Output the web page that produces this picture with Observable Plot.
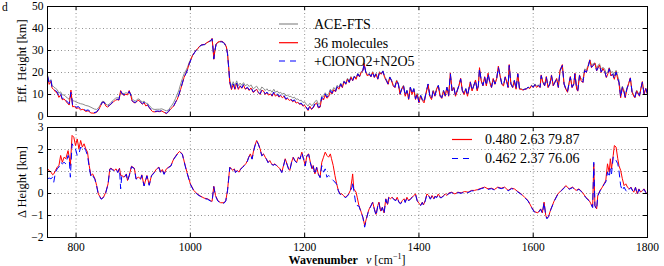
<!DOCTYPE html>
<html><head><meta charset="utf-8">
<script src="https://cdn.jsdelivr.net/npm/d3@7"></script>
<script src="https://cdn.jsdelivr.net/npm/@observablehq/plot@0.6"></script>
<style>
body{margin:0;background:#fff;}
#chart{position:relative;width:664px;height:266px;overflow:hidden;background:#fff;}
#chart svg{position:absolute;left:0;overflow:visible;}
</style></head><body><div id="chart"></div>
<script>
// ---------- data ----------
const xTicks = [800, 1000, 1200, 1400, 1600, 1800];
const yTicksTop = [0, 10, 20, 30, 40, 50];
const yTicksBot = [-2, -1, 0, 1, 2, 3];
const legendTop = ["ACE-FTS", "36 molecules", "+ClONO2+N2O5"];
const legendBot = ["0.480 2.63 79.87", "0.462 2.37 76.06"];

const topNu = [
750,753,756,758,761,764,767,770,773,776,
779,782,785,788,791,794,797,800,804,808,
812,817,821,826,832,836,840,843,846,849,
852,855,858,861,865,869,872,875,878,881,
884,887,890,893,896,898,901,904,907,910,
913,916,919,922,925,928,931,934,938,942,
946,950,954,958,962,965,968,971,974,977,
980,983,986,989,992,995,998,1001,1004,1007,
1010,1013,1016,1019,1022,1025,1028,1031,1034,1036,
1038,1040,1041,1043,1045,1048,1051,1054,1057,1060,
1063,1065,1067,1069,1072,1075,1078,1081,1084,1087,
1090,1093,1096,1100,1103,1106,1110,1113,1116,1119,
1122,1125,1128,1131,1134,1137,1140,1143,1146,1149,
1152,1155,1158,1161,1164,1167,1170,1173,1176,1179,
1182,1185,1188,1191,1194,1197,1200,1203,1206,1209,
1212,1215,1218,1221,1224,1227,1230,1233,1236,1239,
1242,1245,1248,1251,1254,1257,1260,1263,1266,1269,
1272,1275,1278,1281,1284,1287,1290,1293,1296,1299,
1302,1304,1307,1310,1313,1316,1319,1322,1325,1328,
1331,1334,1337,1340,1343,1346,1349,1352,1355,1358,
1361,1364,1367,1370,1373,1376,1379,1382,1385,1388,
1391,1394,1397,1400,1403,1406,1409,1412,1416,1419,
1422,1425,1428,1431,1434,1437,1440,1443,1446,1449,
1452,1455,1458,1461,1464,1467,1470,1473,1476,1479,
1482,1485,1488,1490,1493,1496,1499,1502,1504,1506,
1509,1512,1515,1518,1521,1524,1527,1530,1533,1536,
1539,1542,1545,1548,1551,1554,1556,1558,1561,1564,
1567,1570,1573,1576,1579,1582,1585,1588,1591,1594,
1597,1600,1603,1606,1609,1612,1614,1617,1620,1623,
1626,1629,1632,1635,1638,1641,1644,1647,1651,1654,
1657,1660,1663,1665,1668,1671,1673,1676,1678,1681,
1684,1687,1690,1693,1696,1699,1702,1705,1708,1711,
1714,1716,1719,1722,1725,1728,1731,1733,1736,1739,
1742,1745,1748,1750,1753,1756,1759,1761,1764,1767,
1770,1773,1776,1778,1781,1784,1786,1789,1791,1794,
1797,1800];

const topAce = [
18.8,15.8,16.8,14.2,13.4,12.8,12.2,10.6,11.2,9.8,
9.8,9.0,8.4,7.8,9.5,7.2,7.0,6.6,6.2,5.8,
5.6,5.0,4.8,4.2,3.4,3.2,4.2,5.6,6.9,6.8,
5.6,5.2,5.6,6.4,7.4,8.3,8.6,8.4,10.8,10.6,
10.4,10.8,10.6,11.2,10.2,8.2,7.3,7.0,7.8,8.0,
7.2,6.6,7.0,6.0,6.0,5.0,4.2,3.4,3.2,3.3,
3.3,3.5,3.0,2.6,3.0,4.2,5.2,6.5,8.2,10.0,
12.0,14.8,17.2,19.4,20.8,22.4,24.6,26.2,27.9,29.0,
30.0,30.8,31.8,32.4,32.6,32.7,33.3,33.8,34.2,34.5,
35.3,30.0,26.2,30.0,32.7,33.6,33.9,34.0,33.8,33.0,
31.5,28.5,22.4,16.4,13.6,15.8,13.8,16.2,14.0,15.2,
14.2,15.4,14.0,14.6,13.6,14.4,12.6,13.2,13.8,12.6,
11.8,13.4,12.8,11.8,12.6,11.6,12.0,11.0,12.4,11.0,
11.6,10.6,11.0,10.2,10.6,9.4,9.8,9.0,9.2,8.4,
8.8,7.8,8.0,7.2,7.4,6.4,6.6,5.6,4.8,6.0,
5.0,5.4,6.8,7.4,5.6,5.8,9.4,9.0,10.8,9.6,
10.2,12.4,11.4,13.2,12.2,14.2,13.2,15.2,13.8,16.2,
15.2,17.4,16.0,18.2,16.8,18.4,17.4,19.6,18.4,20.4,
21.0,23.6,20.4,18.8,19.6,18.4,20.4,18.2,19.6,17.4,
20.4,19.6,20.8,18.2,16.8,15.2,18.0,16.6,14.4,13.8,
16.6,15.0,10.8,12.8,14.2,10.0,12.0,8.6,13.4,10.6,
12.8,8.6,10.6,7.0,9.8,8.0,7.0,10.4,14.6,9.8,
8.4,12.0,9.8,12.8,14.2,9.8,8.8,12.0,9.8,13.4,
9.8,19.0,12.0,13.4,9.8,12.0,14.2,16.8,12.0,10.6,
12.8,9.8,13.4,15.4,12.0,14.2,16.2,12.0,14.2,21.2,
16.4,14.2,17.6,14.4,19.0,15.8,13.6,17.0,15.0,17.0,
22.0,18.6,15.0,14.3,17.6,15.6,13.6,22.6,15.0,13.6,
16.4,12.8,19.0,12.8,12.6,12.2,12.5,12.7,13.4,12.9,
14.2,13.6,14.8,13.8,14.4,13.6,18.2,15.8,14.4,17.6,
13.6,15.0,18.2,14.4,15.8,17.0,13.8,20.6,22.8,15.0,
12.8,11.6,15.6,17.6,13.6,15.0,19.0,12.8,12.2,18.4,
17.2,16.6,21.6,21.2,23.2,25.6,23.4,24.0,24.4,22.0,
23.4,24.0,21.4,22.4,21.6,19.4,20.6,22.2,20.0,20.4,
18.4,21.0,18.2,16.6,10.2,13.8,11.8,9.6,13.0,15.0,
17.2,11.4,9.8,9.2,12.0,10.6,9.8,13.2,15.2,10.6,
12.6,10.6];

const topRed = [
18.0,14.6,16.0,13.0,12.2,11.2,10.6,8.7,9.8,7.6,
8.0,7.0,6.0,5.2,12.0,4.4,4.6,3.7,3.9,3.0,
3.3,2.3,2.6,1.6,1.5,1.9,3.3,4.9,6.4,6.5,
4.8,4.3,4.9,5.6,6.6,7.4,7.7,7.4,11.8,10.1,
9.6,10.1,9.8,11.8,9.3,7.1,6.3,6.2,7.1,7.4,
6.3,5.6,6.3,4.8,5.2,4.0,3.0,2.2,2.1,2.3,
2.2,2.5,1.9,1.3,2.2,3.3,4.0,4.8,6.3,7.8,
9.8,12.4,15.0,17.7,19.6,21.4,24.0,25.9,27.8,29.0,
30.1,30.9,31.9,32.5,32.7,32.8,33.4,33.9,34.3,34.7,
35.5,30.2,26.0,30.2,32.9,33.8,34.1,34.2,34.0,33.2,
31.7,28.8,22.8,15.2,12.2,14.6,12.3,15.0,12.3,13.9,
12.8,14.3,12.4,13.0,11.8,13.0,10.9,11.6,12.4,10.8,
10.0,11.9,11.6,10.0,10.8,9.7,10.3,9.2,10.8,9.2,
10.0,8.8,9.5,8.5,9.2,7.7,8.2,7.3,7.7,6.7,
7.3,6.1,6.5,5.5,5.8,4.7,5.1,3.9,2.7,4.7,
3.2,3.9,5.5,6.2,3.9,4.2,8.3,7.5,9.8,8.3,
9.0,11.3,10.2,12.2,11.2,13.4,12.4,14.6,13.1,15.8,
14.6,17.0,15.4,17.8,16.2,18.1,16.9,19.3,18.0,20.1,
20.8,24.2,20.0,18.4,19.2,18.0,20.0,17.7,19.2,16.9,
20.0,19.2,20.4,17.7,16.2,14.6,17.7,16.2,13.9,13.1,
16.2,14.6,10.0,12.4,13.9,9.2,11.6,7.7,13.1,10.0,
12.4,7.7,10.0,6.2,9.2,7.3,6.2,10.0,14.6,9.2,
7.7,11.6,9.2,12.4,13.9,9.2,8.2,11.6,9.2,13.1,
9.2,19.8,11.6,13.1,9.2,11.6,14.0,17.4,11.6,10.0,
12.4,9.2,13.1,15.8,11.6,13.9,16.6,11.6,13.9,22.2,
16.2,13.9,18.1,13.9,19.7,15.4,13.1,17.3,14.6,17.3,
22.9,18.4,14.6,13.9,18.1,15.4,13.1,23.6,14.6,13.1,
16.2,12.4,19.6,12.4,12.4,12.0,12.3,12.5,13.2,12.7,
14.0,13.2,14.4,13.2,14.0,13.1,18.9,15.4,13.9,18.2,
13.1,14.6,18.9,13.9,15.4,17.3,13.1,21.2,23.6,14.6,
12.4,11.0,15.4,18.2,13.1,14.6,19.7,12.4,11.5,18.9,
16.2,15.4,21.1,20.0,22.6,25.8,22.2,23.4,24.2,20.7,
22.6,23.4,20.0,21.9,20.4,17.7,19.6,21.9,18.4,19.2,
16.9,20.4,16.9,15.4,8.5,13.1,11.0,8.5,12.4,15.0,
17.6,11.0,9.2,8.5,11.6,10.0,9.2,13.5,15.9,10.0,
12.8,10.0];

const topBlue = [
18.5,15.1,16.4,13.3,12.6,11.8,11.1,9.1,10.3,8.0,
8.5,7.6,6.5,5.8,11.0,5.0,5.3,4.2,4.5,3.5,
3.8,2.7,3.0,2.0,1.8,2.1,3.5,5.0,6.5,6.5,
5.0,4.5,5.0,5.8,6.8,7.6,7.9,7.6,11.5,10.3,
9.8,10.3,10.0,11.4,9.5,7.3,6.5,6.4,7.3,7.6,
6.5,5.8,6.5,5.0,5.4,4.2,3.2,2.4,2.3,2.5,
2.4,2.7,2.1,1.5,2.4,3.5,4.2,5.0,6.5,8.0,
10.0,12.6,15.2,17.9,19.4,21.2,23.9,25.8,27.7,28.9,
30.0,30.8,31.8,32.4,32.6,32.7,33.3,33.8,34.2,34.5,
35.3,30.0,26.2,30.0,32.7,33.6,33.9,34.0,33.8,33.0,
31.5,28.5,22.4,15.6,12.6,14.8,12.6,15.2,12.6,14.1,
13.0,14.5,12.6,13.3,12.1,13.3,11.2,11.8,12.6,11.1,
10.3,12.1,11.8,10.3,11.1,10.0,10.6,9.5,11.1,9.5,
10.3,9.1,9.8,8.8,9.5,8.0,8.5,7.6,8.0,7.0,
7.6,6.4,6.8,5.8,6.1,5.0,5.4,4.2,3.0,5.0,
3.5,4.2,5.8,6.5,4.2,4.5,8.8,8.0,10.3,8.8,
9.5,11.8,10.6,12.6,11.5,13.6,12.6,14.8,13.3,15.9,
14.8,17.1,15.6,17.9,16.4,18.2,17.1,19.4,18.2,20.2,
20.9,23.9,20.2,18.6,19.4,18.2,20.2,17.9,19.4,17.1,
20.2,19.4,20.6,17.9,16.4,14.8,17.9,16.4,14.1,13.3,
16.4,14.8,10.3,12.6,14.1,9.5,11.8,8.0,13.3,10.3,
12.6,8.0,10.3,6.5,9.5,7.6,6.5,10.3,14.8,9.5,
8.0,11.8,9.5,12.6,14.1,9.5,8.5,11.8,9.5,13.3,
9.5,19.4,11.8,13.3,9.5,11.8,14.1,17.1,11.8,10.3,
12.6,9.5,13.3,15.6,11.8,14.1,16.4,11.8,14.1,21.7,
16.4,14.1,17.9,14.1,19.4,15.6,13.3,17.1,14.8,17.1,
22.4,18.6,14.8,14.1,17.9,15.6,13.3,23.2,14.8,13.3,
16.4,12.6,19.4,12.6,12.6,12.1,12.4,12.6,13.3,12.8,
14.1,13.3,14.5,13.3,14.1,13.3,18.6,15.6,14.1,17.9,
13.3,14.8,18.6,14.1,15.6,17.1,13.3,20.9,23.2,14.8,
12.6,11.2,15.6,17.9,13.3,14.8,19.4,12.6,11.8,18.6,
16.4,15.6,20.9,20.2,22.4,25.5,22.4,23.2,23.9,20.9,
22.4,23.2,20.2,21.7,20.6,17.9,19.4,21.7,18.6,19.4,
17.1,20.2,17.1,15.6,8.8,13.3,11.2,8.8,12.6,14.8,
17.4,11.2,9.5,8.8,11.8,10.3,9.5,13.3,15.6,10.3,
12.6,10.3];

const botNu = [
750,753,756,759,761,764,767,770,773,776,
779,782,786,788,790,793,796,799,802,805,
808,811,814,817,820,823,826,829,833,836,
839,844,848,852,856,859,861,864,867,870,
873,876,878,880,884,888,890,893,897,902,
905,909,913,915,919,924,928,932,937,941,
945,948,951,954,958,962,966,971,977,981,
986,988,991,994,1000,1006,1012,1018,1024,1030,
1035,1038,1041,1044,1048,1053,1059,1062,1065,1067,
1069,1072,1074,1077,1079,1082,1085,1088,1091,1094,
1097,1100,1102,1105,1108,1111,1113,1116,1119,1122,
1125,1128,1131,1133,1136,1139,1142,1145,1148,1151,
1154,1157,1160,1163,1166,1169,1172,1174,1177,1180,
1183,1186,1189,1192,1195,1198,1201,1204,1207,1210,
1213,1215,1218,1221,1224,1227,1230,1233,1236,1239,
1242,1245,1247,1250,1253,1256,1259,1262,1265,1268,
1271,1274,1277,1280,1283,1284,1286,1290,1292,1295,
1299,1302,1305,1308,1311,1313,1316,1319,1322,1325,
1328,1330,1333,1336,1339,1342,1345,1347,1350,1353,
1356,1359,1362,1365,1368,1371,1374,1376,1379,1382,
1385,1388,1391,1394,1397,1400,1403,1406,1408,1411,
1414,1417,1420,1423,1426,1428,1431,1434,1437,1440,
1443,1446,1449,1452,1457,1463,1468,1474,1480,1486,
1492,1497,1503,1509,1515,1521,1527,1532,1538,1544,
1550,1556,1562,1567,1573,1579,1585,1591,1597,1602,
1608,1613,1616,1619,1622,1624,1627,1631,1637,1643,
1649,1655,1657,1663,1669,1675,1680,1686,1692,1698,
1701,1704,1706,1708,1711,1713,1717,1721,1724,1727,
1730,1733,1735,1737,1740,1742,1745,1748,1750,1753,
1756,1759,1762,1765,1768,1771,1774,1776,1779,1782,
1785,1788,1791,1794,1797,1800];

const botRed = [
1.12,1.05,0.97,0.85,0.89,1.05,1.20,1.27,1.73,1.42,
1.65,1.58,1.95,1.65,1.27,2.64,2.56,2.18,2.48,2.03,
2.41,2.11,2.26,2.03,1.88,1.27,0.82,0.89,0.67,0.36,
-0.02,-0.24,-0.17,0.06,0.44,1.12,1.15,1.09,1.05,1.12,
0.97,1.15,0.82,0.82,0.74,0.89,0.59,0.82,1.24,1.15,
0.67,0.74,0.67,0.85,0.36,0.82,0.39,0.82,0.97,1.12,
1.20,0.97,1.09,0.89,1.12,1.20,1.27,1.58,1.80,1.91,
1.80,1.58,1.27,0.97,0.44,0.14,-0.02,-0.12,-0.21,-0.24,
-0.32,-0.36,0.33,-0.09,-0.32,-0.42,-0.42,-0.32,0.14,0.67,
1.20,1.12,1.05,1.12,0.97,1.05,0.97,1.12,1.20,1.27,
1.35,1.50,1.65,1.80,1.58,2.00,2.18,2.41,2.26,2.03,
1.73,1.80,1.65,1.58,1.42,1.50,1.35,1.30,1.35,1.27,
1.20,1.12,0.97,1.27,1.58,1.35,1.12,1.05,1.42,1.65,
1.50,1.42,1.65,1.58,1.88,1.58,1.27,1.73,1.80,1.42,
1.12,1.27,0.89,1.20,0.89,0.74,1.42,1.65,1.88,1.73,
1.65,1.80,1.58,1.27,0.82,0.44,0.14,-0.02,-0.02,-0.09,
-0.17,-0.12,-0.02,0.14,0.67,0.89,0.21,0.06,-0.17,-0.55,
-0.85,-1.08,-1.45,-1.15,-0.85,-0.70,-0.55,-0.39,-0.70,-0.95,
-0.55,-0.39,-0.80,-0.62,-0.88,-0.24,-0.50,-0.17,-0.24,-0.17,
-0.24,-0.32,-0.17,-0.39,-0.45,-0.32,-0.24,-0.39,-0.17,-0.32,
-0.24,-0.17,-0.09,-0.02,-0.32,-0.45,-0.52,-0.39,-0.52,-0.32,
-0.02,-0.09,-0.24,-0.09,-0.24,-0.12,-0.17,-0.02,-0.17,-0.17,
-0.09,-0.02,-0.09,0.02,0.06,-0.02,0.06,0.03,0.09,0.06,
0.14,0.14,0.18,0.24,0.29,0.21,0.24,0.18,0.29,0.24,
0.29,0.14,0.24,0.21,0.09,-0.02,-0.17,-0.32,-0.62,-0.82,
-0.88,-0.70,-0.88,-0.39,-1.00,-1.12,-1.03,-0.70,-0.32,-0.02,
0.14,0.29,0.36,0.21,0.29,0.14,0.21,0.06,-0.17,-0.32,
-0.47,-0.62,1.35,-0.55,-0.70,-0.09,0.14,0.29,0.44,0.59,
1.35,0.97,1.58,1.12,1.73,2.18,2.11,1.58,1.27,1.05,
0.67,0.36,0.44,0.29,0.21,0.29,0.14,0.06,0.29,-0.02,
0.21,0.06,0.14,0.21,0.06,-0.02];

const botBlue = [
0.67,0.70,0.67,0.74,0.52,0.97,1.12,1.20,1.42,1.35,
1.42,1.35,1.73,1.58,0.74,2.26,2.11,2.03,1.73,1.80,
2.11,2.03,2.11,1.95,1.73,1.20,0.74,0.82,0.64,0.34,
-0.04,-0.26,-0.18,0.04,0.42,1.10,1.13,1.07,1.03,1.10,
0.95,1.13,0.21,0.80,0.72,0.87,0.57,0.80,1.22,1.13,
0.65,0.72,0.65,0.83,0.34,0.80,0.37,0.80,0.95,1.10,
1.18,0.95,1.07,0.87,1.10,1.18,1.25,1.56,1.78,1.89,
1.78,1.56,1.25,0.95,0.42,0.12,-0.04,-0.14,-0.23,-0.26,
-0.34,-0.38,0.31,-0.11,-0.34,-0.44,-0.44,-0.34,0.12,0.65,
1.18,1.10,1.03,1.10,0.95,1.03,0.95,1.10,1.18,1.25,
1.33,1.48,1.63,1.78,1.56,1.95,2.16,2.39,2.24,2.01,
1.71,1.78,1.63,1.56,1.40,1.48,1.33,1.28,1.33,1.25,
1.18,1.10,0.95,1.25,1.56,1.33,1.10,1.03,1.40,1.63,
1.48,1.40,1.63,1.56,1.86,1.56,1.25,1.71,1.78,1.40,
1.10,1.25,0.87,1.18,0.87,0.72,1.27,0.97,1.12,0.74,
0.82,0.74,0.67,0.59,0.52,0.42,0.12,-0.04,-0.04,-0.11,
-0.19,-0.14,-0.04,0.12,0.29,0.52,0.14,-0.55,-0.55,-0.57,
-0.87,-1.10,-1.53,-1.17,-0.87,-0.72,-0.57,-0.41,-0.72,-1.00,
-0.57,-0.41,-0.85,-0.64,-0.92,-0.26,-0.55,-0.19,-0.26,-0.19,
-0.26,-0.34,-0.19,-0.41,-0.47,-0.34,-0.26,-0.41,-0.19,-0.34,
-0.26,-0.19,-0.11,-0.04,-0.34,-0.47,-0.55,-0.41,-0.55,-0.34,
-0.04,-0.11,-0.26,-0.11,-0.26,-0.14,-0.19,-0.04,-0.19,-0.19,
-0.11,-0.04,-0.11,0.00,0.04,-0.04,0.04,0.01,0.07,0.04,
0.12,0.12,0.16,0.22,0.27,0.19,0.22,0.16,0.27,0.22,
0.27,0.12,0.22,0.19,0.07,-0.04,-0.19,-0.34,-0.64,-0.84,
-0.90,-0.72,-0.90,-0.41,-1.02,-1.15,-1.05,-0.72,-0.34,-0.04,
0.12,0.27,0.34,0.19,0.27,0.12,0.19,0.04,-0.19,-0.34,
-0.49,-0.64,1.42,-0.57,-0.72,-0.11,0.12,0.27,0.42,0.52,
0.97,0.74,1.12,0.89,1.65,1.65,1.50,1.35,1.05,0.36,
0.14,0.29,0.14,0.06,0.19,0.27,0.12,0.04,0.27,-0.04,
0.19,0.04,0.12,0.19,0.04,-0.04];

// ---------- tables ----------
const topData = topNu.map((x, i) => ({x, ace: topAce[i], red: topRed[i], blue: topBlue[i]}));
const botData = botNu.map((x, i) => ({x, red: botRed[i], blue: botBlue[i]}));

// ---------- style ----------
const FONT = "'Liberation Serif', 'DejaVu Serif', serif";
const W = 664, ML = 47, MR = 17;
const innerW = W - ML - MR;
const GRID = {stroke: "#777", strokeOpacity: 1, strokeWidth: 0.8, strokeDasharray: "1,2.5"};
const fmt = d => d < 0 ? "\u2212" + (-d) : String(d);

function panel({series, yDomain, yTicks, height, mt, mb, xLabels}) {
  const innerH = height - mt - mb;
  const marks = [
    Plot.gridX(xTicks, GRID),
    Plot.gridY(yTicks, GRID),
    ...series,
    Plot.tickX(xTicks, {x: d => d, stroke: "black", insetTop: innerH - 4}),
    Plot.tickX(xTicks, {x: d => d, stroke: "black", insetBottom: innerH - 4}),
    Plot.tickY(yTicks, {y: d => d, stroke: "black", insetRight: innerW - 4}),
    Plot.tickY(yTicks, {y: d => d, stroke: "black", insetLeft: innerW - 4}),
    Plot.axisY({ticks: yTicks, tickSize: 0, tickPadding: 4, tickFormat: fmt, label: null, fontSize: 11.5}),
    Plot.frame({stroke: "black", strokeWidth: 1})
  ];
  if (xLabels) marks.push(Plot.axisX({ticks: xTicks, tickSize: 0, tickPadding: 5, tickFormat: fmt, label: null, fontSize: 11.5}));
  return Plot.plot({
    width: W, height, marginLeft: ML, marginRight: MR, marginTop: mt, marginBottom: mb,
    style: {fontFamily: FONT, fontSize: "11.5px", background: "transparent", color: "black", overflow: "visible"},
    x: {domain: [750, 1800], axis: xLabels ? undefined : null},
    y: {domain: yDomain},
    marks
  });
}

const topPlot = panel({
  yDomain: [0, 50], yTicks: yTicksTop, height: 120, mt: 6, mb: 4, xLabels: false,
  series: [
    Plot.line(topData, {x: "x", y: "ace", stroke: "#8c8c8c", strokeWidth: 1}),
    Plot.line(topData, {x: "x", y: "red", stroke: "#ff0000", strokeWidth: 1}),
    Plot.line(topData, {x: "x", y: "blue", stroke: "#0000ff", strokeWidth: 1, strokeDasharray: "6,5"})
  ]
});
const botPlot = panel({
  yDomain: [-2, 3], yTicks: yTicksBot, height: 146, mt: 7, mb: 29, xLabels: true,
  series: [
    Plot.line(botData, {x: "x", y: "red", stroke: "#ff0000", strokeWidth: 1}),
    Plot.line(botData, {x: "x", y: "blue", stroke: "#0000ff", strokeWidth: 1, strokeDasharray: "6,5"})
  ]
});

const chart = document.getElementById("chart");
topPlot.style.top = "0px";
botPlot.style.top = "120px";
chart.appendChild(botPlot);
chart.appendChild(topPlot);

// ---------- overlay: labels and legends ----------
const ov = d3.select(chart).append("svg")
  .attr("width", W).attr("height", 266)
  .style("top", "0px").style("pointer-events", "none")
  .attr("font-family", FONT);

ov.append("text").attr("x", 2).attr("y", 11).attr("font-size", 11.5).text("d");

ov.append("text").attr("transform", "translate(26,61) rotate(-90)")
  .attr("text-anchor", "middle").attr("font-size", 12.5).text("Eff. Height [km]");
ov.append("text").attr("transform", "translate(26,182) rotate(-90)")
  .attr("text-anchor", "middle").attr("font-size", 12.5).text("\u0394 Height [km]");

const xl = ov.append("text").attr("x", 347).attr("y", 264).attr("text-anchor", "middle").attr("font-size", 12);
xl.append("tspan").attr("font-weight", "bold").text("Wavenumber");
xl.append("tspan").attr("font-style", "italic").attr("dx", 8).text("\u03bd");
xl.append("tspan").text(" [cm");
xl.append("tspan").attr("font-size", 8).attr("dy", -5).text("\u22121");
xl.append("tspan").attr("dy", 5).text("]");

const topStyles = [
  {stroke: "#8c8c8c", dash: null},
  {stroke: "#ff0000", dash: null},
  {stroke: "#0000ff", dash: "6,5"}
];
const topRows = [24, 42.7, 61];
legendTop.forEach((t, i) => {
  const y = topRows[i];
  ov.append("line").attr("x1", 279).attr("x2", 298).attr("y1", y).attr("y2", y)
    .attr("stroke", topStyles[i].stroke).attr("stroke-width", 1.2)
    .attr("stroke-dasharray", topStyles[i].dash);
  ov.append("text").attr("x", 314).attr("y", y).attr("dy", "0.35em").attr("font-size", 14).text(t);
});

const botStyles = [
  {stroke: "#ff0000", dash: null},
  {stroke: "#0000ff", dash: "6,5"}
];
const botRows = [139.5, 158.5];
legendBot.forEach((t, i) => {
  const y = botRows[i];
  ov.append("line").attr("x1", 452).attr("x2", 472).attr("y1", y).attr("y2", y)
    .attr("stroke", botStyles[i].stroke).attr("stroke-width", 1.2)
    .attr("stroke-dasharray", botStyles[i].dash);
  ov.append("text").attr("x", 485).attr("y", y).attr("dy", "0.35em").attr("font-size", 14).text(t);
});
</script>
</body></html>
